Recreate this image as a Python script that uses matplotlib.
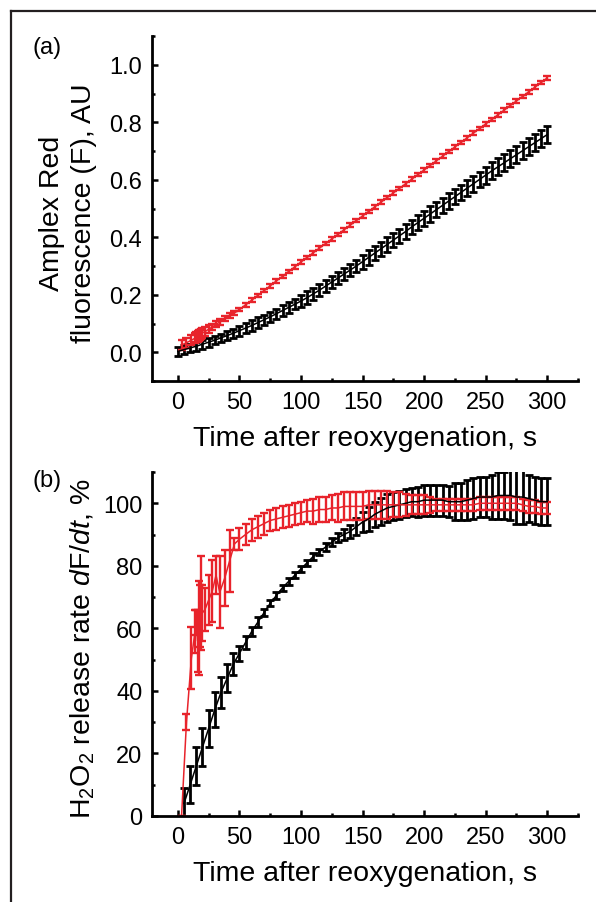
import matplotlib
matplotlib.use("Agg")
import matplotlib.pyplot as plt
from matplotlib.lines import Line2D
from matplotlib.ticker import MultipleLocator
import numpy as np

plt.rcParams['font.family'] = ['Liberation Sans', 'DejaVu Sans']
plt.rcParams['mathtext.fontset'] = 'custom'
plt.rcParams['mathtext.rm'] = 'Liberation Sans'
plt.rcParams['mathtext.it'] = 'Liberation Sans:italic'

RED = '#e8232b'
BLACK = '#000000'

# ---------------- Panel (a) data ----------------
red_t = [3, 7, 11, 14, 15, 16, 17, 18, 19, 20, 22, 25, 28, 31, 34, 38, 42, 46,
         50, 55, 60, 65, 70, 75, 80, 85, 90, 95, 100, 105, 110, 115, 120, 125,
         130, 135, 140, 145, 150, 155, 160, 165, 170, 175, 180, 185, 190, 195,
         200, 205, 210, 215, 220, 225, 230, 235, 240, 245, 250, 255, 260, 265,
         270, 275, 280, 285, 290, 295, 300]
red_F = [0.025, 0.033, 0.042, 0.049, 0.052, 0.055, 0.058, 0.061, 0.064, 0.067,
         0.072, 0.080, 0.088, 0.097, 0.105, 0.116, 0.127, 0.137,
         0.148, 0.165, 0.181, 0.198, 0.214, 0.231, 0.248, 0.264, 0.281, 0.297,
         0.314, 0.330, 0.346, 0.362, 0.378, 0.394, 0.410, 0.426, 0.442, 0.458,
         0.474, 0.490, 0.506, 0.522, 0.538, 0.554, 0.570, 0.586, 0.602, 0.618,
         0.634, 0.650, 0.666, 0.682, 0.698, 0.714, 0.730, 0.746, 0.762, 0.778,
         0.794, 0.810, 0.826, 0.842, 0.858, 0.874, 0.890, 0.906, 0.922, 0.938,
         0.954]
red_F_err = [0.018, 0.018, 0.018, 0.018, 0.018, 0.018, 0.018, 0.018, 0.018, 0.018,
             0.016, 0.014, 0.010, 0.010, 0.010, 0.009, 0.008, 0.007] + [0.006] * 51

black_t = [0, 5, 10, 15, 20, 25, 30, 35, 40, 45, 50, 55, 60, 65, 70, 75, 80, 85,
           90, 95, 100, 105, 110, 115, 120, 125, 130, 135, 140, 145, 150, 155,
           160, 165, 170, 175, 180, 185, 190, 195, 200, 205, 210, 215, 220, 225,
           230, 235, 240, 245, 250, 255, 260, 265, 270, 275, 280, 285, 290, 295, 300]
black_F = [0.003, 0.009, 0.015, 0.021, 0.028, 0.035, 0.042, 0.050, 0.058, 0.066,
           0.075, 0.084, 0.093, 0.103, 0.113, 0.123, 0.134, 0.145, 0.156, 0.167,
           0.178, 0.190, 0.203, 0.216, 0.230, 0.244, 0.258, 0.272, 0.286, 0.300,
           0.315, 0.330, 0.345, 0.360, 0.375, 0.390, 0.405, 0.420, 0.436, 0.451,
           0.466, 0.481, 0.496, 0.511, 0.526, 0.541, 0.556, 0.571, 0.586, 0.601,
           0.616, 0.631, 0.645, 0.659, 0.673, 0.687, 0.701, 0.715, 0.729, 0.743,
           0.757]
black_F_err = [0.015] * 10 + [0.018] * 10 + [0.022] * 10 + [0.025] * 10 + \
              [0.027] * 10 + [0.030] * 11

# ---------------- Panel (b) data ----------------
red_rate = [0, 30, 50.5, 59, 62, 56, 60, 64, 68, 65, 66, 69, 72, 77, 71.5, 76,
            81.5, 87,
            88.5, 90, 91.5, 92.5, 93.5, 94.5, 95, 95.5, 96, 96.5, 97, 97.5, 97.5,
            98, 98, 98.5, 98.5, 99, 99, 99, 99, 99.5, 99.5, 99.5, 99.5, 99.5,
            99.5, 99.5, 99.5, 99.5, 99.5, 99.5, 99.5, 99.5, 99.5, 99.5, 99.5,
            99.5, 99.5, 100, 100, 100, 100, 100, 100, 100, 99.5, 99, 99, 98.5, 98.5]
red_rate_err = [0, 2.5, 10, 7, 4, 10, 15, 10, 15, 9, 7, 8, 10, 6, 11.5, 9, 10, 2,
                3.5, 3.5, 3.5, 3.5, 3.5, 3.5, 3.5, 3.5, 3.5, 3.5, 3.5, 3.5, 4, 4,
                4, 4, 4.5, 4.5, 4.5, 4.5, 4.5, 4.5, 4.5, 4.5, 4.5, 4, 4, 3.5, 3,
                3, 3, 2.5, 2, 2, 2, 2, 2, 2, 2, 2, 2, 2, 2, 2, 2, 2, 2, 2, 2, 2, 2]

black_rate_t = black_t[1:]
black_rate = [4, 10, 16, 22, 28, 34, 39.5, 44, 48.5, 52, 55.5, 59, 62, 65, 68,
              70.5, 73, 75, 77, 79, 81, 83, 84.5, 86, 87.5, 89, 90, 91, 92.5, 94,
              95, 96.5, 97.5, 98.5, 99, 99.5, 100, 100.5, 100.5, 101, 101, 101,
              101, 100.5, 100.5, 100.5, 101, 101.5, 102, 102, 102, 102.5, 102.5,
              102.5, 102, 102, 101.5, 101, 100.5, 100.5]
black_rate_err = [5, 6, 6, 6, 6, 5.5, 5, 4.5, 3.5, 2.5, 2, 1.5, 1.5, 1.2, 1, 1, 1,
                  1, 1, 1, 1, 1, 1, 1.2, 1.3, 1.5, 1.8, 2.2, 2.8, 3.3, 3.8, 4,
                  4.3, 4.5, 4.5, 4.5, 4.5, 4.5, 4.8, 5, 5, 5, 5, 5, 6, 6, 6.5,
                  6.5, 6.5, 6.5, 7, 7.5, 7.5, 8, 8.5, 8.5, 7.5, 7.5, 7.5, 7.5]

x_ticks = [0, 50, 100, 150, 200, 250, 300]

fig = plt.figure(figsize=(5.96, 9.03), dpi=100)

W, H = 596.0, 903.0
def ax_rect(l, t, r, b):
    return [l / W, 1 - b / H, (r - l) / W, (b - t) / H]

axa = fig.add_axes(ax_rect(152, 37, 578, 382))
axb = fig.add_axes(ax_rect(152, 473, 578, 817))

eb_black = dict(capsize=3.0, elinewidth=2.0, capthick=2.0, lw=1.1)
eb_red = dict(capsize=2.6, elinewidth=1.7, capthick=1.7, lw=1.1)

axa.errorbar(black_t, black_F, yerr=black_F_err, color=BLACK, **eb_black)
axa.errorbar(red_t, red_F, yerr=red_F_err, color=RED, **eb_red)

axb.errorbar(black_rate_t, black_rate, yerr=black_rate_err, color=BLACK, **eb_black)
axb.errorbar(red_t, red_rate, yerr=red_rate_err, color=RED, **eb_red)

for ax in (axa, axb):
    ax.spines['top'].set_visible(False)
    ax.spines['right'].set_visible(False)
    ax.spines['left'].set_linewidth(2.0)
    ax.spines['bottom'].set_linewidth(2.0)
    ax.set_xlim(-21, 325)
    ax.set_xticks(x_ticks)
    ax.xaxis.set_minor_locator(MultipleLocator(25))
    ax.tick_params(which='major', direction='in', length=4.5, width=1.8,
                   labelsize=17, pad=7)
    ax.tick_params(which='minor', direction='in', length=2.5, width=1.8)
    ax.set_xlabel('Time after reoxygenation, s', fontsize=20.5, labelpad=9)
    ax.patch.set_alpha(0)

axa.set_ylim(-0.1, 1.1)
axa.set_yticks([0.0, 0.2, 0.4, 0.6, 0.8, 1.0])
axa.set_yticklabels(['0.0', '0.2', '0.4', '0.6', '0.8', '1.0'])
axa.yaxis.set_minor_locator(MultipleLocator(0.1))
axa.set_ylabel('Amplex Red\nfluorescence (F), AU', fontsize=20.5, linespacing=1.3)
axa.yaxis.set_label_coords(-0.128, 0.49)

axb.set_ylim(0, 110)
axb.set_yticks([0, 20, 40, 60, 80, 100])
axb.yaxis.set_minor_locator(MultipleLocator(10))
axb.set_ylabel(r'H$_2$O$_2$ release rate $\mathit{d}$F/$\mathit{dt}$, %', fontsize=20.5)
axb.yaxis.set_label_coords(-0.128, 0.49)

fig.text(32 / W, 1 - 48 / H, '(a)', fontsize=17, va='center', ha='left')
fig.text(32 / W, 1 - 481 / H, '(b)', fontsize=17, va='center', ha='left')

# outer frame (left and top edges)
fx = 10.5 / W
fy = 1 - 11.5 / H
fig.add_artist(Line2D([fx, fx], [0, fy], transform=fig.transFigure,
                      color='#231f20', lw=1.6))
fig.add_artist(Line2D([fx, 1], [fy, fy], transform=fig.transFigure,
                      color='#231f20', lw=1.6))

fig.savefig('out.png', dpi=100)
